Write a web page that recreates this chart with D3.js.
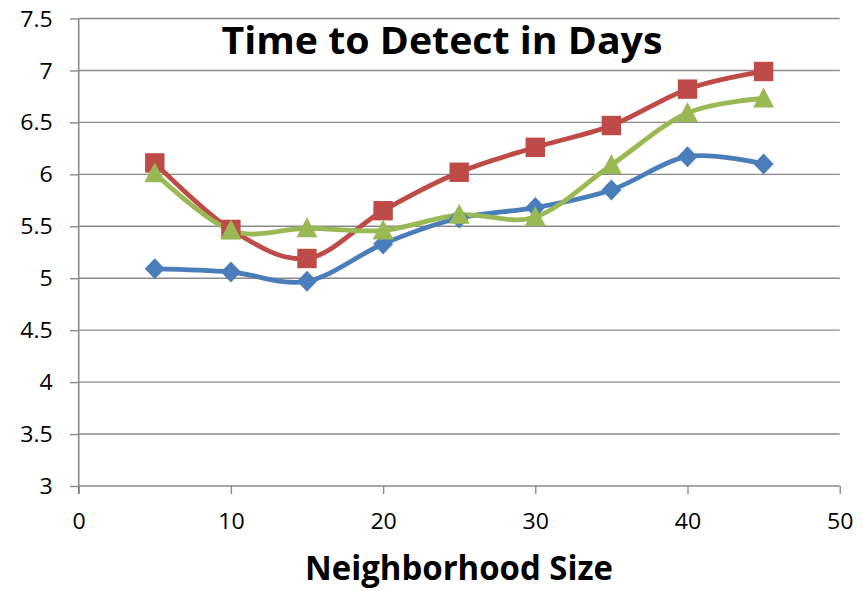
<!DOCTYPE html>
<html><head><meta charset="utf-8">
<script src="https://cdn.jsdelivr.net/npm/d3@7"></script>
<style>body{margin:0;background:#fff}svg{display:block}</style>
</head><body>
<svg id="c" width="863" height="591"></svg>
<script>
const xValues = [5, 10, 15, 20, 25, 30, 35, 40, 45];
const seriesBlue  = [5.09, 5.06, 4.97, 5.33, 5.58, 5.68, 5.85, 6.17, 6.10];
const seriesRed   = [6.11, 5.47, 5.19, 5.65, 6.02, 6.26, 6.47, 6.82, 6.99];
const seriesGreen = [6.01, 5.46, 5.48, 5.46, 5.61, 5.59, 6.09, 6.59, 6.73];
const xTicks = [0, 10, 20, 30, 40, 50];
const yTicks = [3, 3.5, 4, 4.5, 5, 5.5, 6, 6.5, 7, 7.5];
const titleText = "Time to Detect in Days";
const xTitleText = "Neighborhood Size";

const svg = d3.select("#c");
const L = 78.7, R = 839.7, T = 18.5, B = 486;
const x = d3.scaleLinear().domain([0, 50]).range([L, R]);
const y = d3.scaleLinear().domain([3, 7.5]).range([B, T]);
const gray = "#8a8a8a";
const font = "'Open Sans', sans-serif";

// gridlines
svg.append("g").selectAll("line").data(yTicks.filter(d => d > 3)).join("line")
  .attr("x1", L).attr("x2", R).attr("y1", d => y(d)).attr("y2", d => y(d))
  .attr("stroke", gray).attr("stroke-width", 1.4);

// y axis
const ya = svg.append("g").attr("transform", `translate(${L},0)`)
  .call(d3.axisLeft(y).tickValues(yTicks).tickSize(8.7).tickPadding(0).tickFormat(d3.format("")));
ya.select(".domain").attr("stroke", gray).attr("stroke-width", 1.6).attr("d", `M0,${T}V${B + 8}`);
ya.selectAll(".tick line").attr("stroke", gray).attr("stroke-width", 1.4);
ya.selectAll(".tick text").attr("x", -26).attr("dy", "0.36em")
  .attr("font-family", font).attr("font-size", 21).attr("fill", "#000");

// x axis
const xa = svg.append("g").attr("transform", `translate(0,${B})`)
  .call(d3.axisBottom(x).tickValues(xTicks).tickSize(8).tickPadding(0).tickFormat(d3.format("")));
xa.select(".domain").attr("stroke", gray).attr("stroke-width", 1.6).attr("d", `M${L},0H${R}`);
xa.selectAll(".tick line").attr("stroke", gray).attr("stroke-width", 1.4);
xa.selectAll(".tick text").attr("y", 43).attr("dy", 0)
  .attr("font-family", font).attr("font-size", 21).attr("fill", "#000");

// stretch tick labels horizontally
svg.selectAll(".tick text").each(function () {
  const w = this.getComputedTextLength();
  d3.select(this).attr("textLength", w * 1.1).attr("lengthAdjust", "spacingAndGlyphs");
});

const line = d3.line().x((d, i) => x(xValues[i])).y(d => y(d)).curve(d3.curveCardinal.tension(0));
const series = [
  { v: seriesBlue, c: "#4a7ebb", m: "diamond" },
  { v: seriesRed, c: "#be4b48", m: "square" },
  { v: seriesGreen, c: "#98b954", m: "triangle" }
];
series.forEach(s => {
  svg.append("path").attr("d", line(s.v)).attr("fill", "none")
    .attr("stroke", s.c).attr("stroke-width", 4.8).attr("stroke-linejoin", "round");
});
series.forEach(s => {
  const g = svg.append("g");
  s.v.forEach((d, i) => {
    const cx = x(xValues[i]), cy = y(d);
    let p;
    if (s.m === "diamond") p = `M${cx},${cy - 10.5}L${cx + 10},${cy}L${cx},${cy + 10.5}L${cx - 10},${cy}Z`;
    else if (s.m === "square") p = `M${cx - 9.7},${cy - 9.7}h19.4v19.4h-19.4Z`;
    else p = `M${cx},${cy - 11}L${cx + 10.5},${cy + 9}L${cx - 10.5},${cy + 9}Z`;
    g.append("path").attr("d", p).attr("fill", s.c);
  });
});

// titles
const t1 = svg.append("text").attr("x", 442).attr("y", 54).attr("text-anchor", "middle")
  .attr("font-family", font).attr("font-weight", "bold").attr("font-size", 38).attr("fill", "#000")
  .text(titleText);
t1.attr("textLength", 441).attr("lengthAdjust", "spacingAndGlyphs");
const t2 = svg.append("text").attr("x", 459).attr("y", 580).attr("text-anchor", "middle")
  .attr("font-family", font).attr("font-weight", "bold").attr("font-size", 34).attr("fill", "#000")
  .text(xTitleText);
t2.attr("textLength", 308).attr("lengthAdjust", "spacingAndGlyphs");
</script>
</body></html>
